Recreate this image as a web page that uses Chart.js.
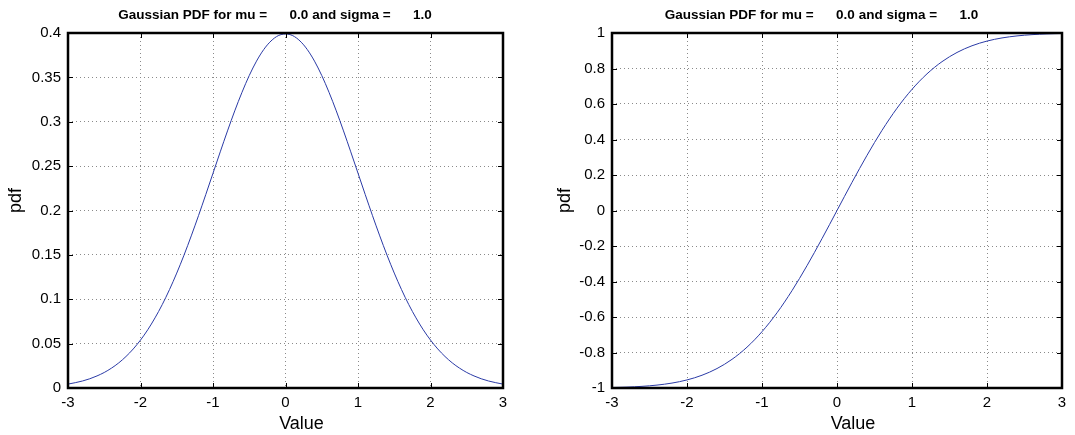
<!DOCTYPE html>
<html>
<head>
<meta charset="utf-8">
<script src="https://cdn.jsdelivr.net/npm/chart.js@4"></script>
<style>
  body { margin: 0; background: #fff; }
  #wrap { position: relative; width: 1075px; height: 435px; }
  .box { position: absolute; top: 0; height: 435px; }
</style>
</head>
<body>
<div id="wrap">
  <div class="box" style="left:0;width:537px"><canvas id="left" width="537" height="435"></canvas></div>
  <div class="box" style="left:537px;width:538px"><canvas id="right" width="538" height="435"></canvas></div>
</div>
<script>
const xValues = [
  -3.0, -2.9, -2.8, -2.7, -2.6, -2.5, -2.4, -2.3, -2.2, -2.1,
  -2.0, -1.9, -1.8, -1.7, -1.6, -1.5, -1.4, -1.3, -1.2, -1.1,
  -1.0, -0.9, -0.8, -0.7, -0.6, -0.5, -0.4, -0.3, -0.2, -0.1,
  0.0, 0.1, 0.2, 0.3, 0.4, 0.5, 0.6, 0.7, 0.8, 0.9,
  1.0, 1.1, 1.2, 1.3, 1.4, 1.5, 1.6, 1.7, 1.8, 1.9,
  2.0, 2.1, 2.2, 2.3, 2.4, 2.5, 2.6, 2.7, 2.8, 2.9, 3.0
];
const pdfValues = [
  0.0044, 0.0060, 0.0079, 0.0104, 0.0136, 0.0175, 0.0224, 0.0283, 0.0355, 0.0440,
  0.0540, 0.0656, 0.0790, 0.0940, 0.1109, 0.1295, 0.1497, 0.1714, 0.1942, 0.2179,
  0.2420, 0.2661, 0.2897, 0.3123, 0.3332, 0.3521, 0.3683, 0.3814, 0.3910, 0.3970,
  0.3989, 0.3970, 0.3910, 0.3814, 0.3683, 0.3521, 0.3332, 0.3123, 0.2897, 0.2661,
  0.2420, 0.2179, 0.1942, 0.1714, 0.1497, 0.1295, 0.1109, 0.0940, 0.0790, 0.0656,
  0.0540, 0.0440, 0.0355, 0.0283, 0.0224, 0.0175, 0.0136, 0.0104, 0.0079, 0.0060, 0.0044
];
const rightValues = [
  -0.9973, -0.9963, -0.9949, -0.9931, -0.9907, -0.9876, -0.9836, -0.9786, -0.9722, -0.9643,
  -0.9545, -0.9426, -0.9281, -0.9109, -0.8904, -0.8664, -0.8385, -0.8064, -0.7699, -0.7287,
  -0.6827, -0.6319, -0.5763, -0.5161, -0.4515, -0.3829, -0.3108, -0.2358, -0.1585, -0.0797,
  0.0, 0.0797, 0.1585, 0.2358, 0.3108, 0.3829, 0.4515, 0.5161, 0.5763, 0.6319,
  0.6827, 0.7287, 0.7699, 0.8064, 0.8385, 0.8664, 0.8904, 0.9109, 0.9281, 0.9426,
  0.9545, 0.9643, 0.9722, 0.9786, 0.9836, 0.9876, 0.9907, 0.9931, 0.9949, 0.9963, 0.9973
];
const xTicks = [-3, -2, -1, 0, 1, 2, 3];
const pdfTicks = [0, 0.05, 0.1, 0.15, 0.2, 0.25, 0.3, 0.35, 0.4];
const rightTicks = [-1, -0.8, -0.6, -0.4, -0.2, 0, 0.2, 0.4, 0.6, 0.8, 1];

const titleText = "Gaussian PDF for mu =      0.0 and sigma =      1.0";
const xTitle = "Value";
const yTitle = "pdf";
const fontFamily = '"Liberation Sans", Arial, Helvetica, sans-serif';
const lineColor = "#2a3aa6";

// box, inward tick marks and the texts, MATLAB style
const frame = {
  id: "frame",
  afterDraw(chart, args, opts) {
    const { ctx, chartArea: a, scales: { x, y } } = chart;
    ctx.save();
    ctx.strokeStyle = "#000";
    ctx.lineWidth = 1;
    ctx.beginPath();
    x.ticks.forEach(t => {
      const px = Math.round(x.getPixelForValue(t.value)) + 0.5;
      ctx.moveTo(px, a.bottom); ctx.lineTo(px, a.bottom - 5);
      ctx.moveTo(px, a.top); ctx.lineTo(px, a.top + 5);
    });
    y.ticks.forEach(t => {
      const py = Math.round(y.getPixelForValue(t.value)) + 0.5;
      ctx.moveTo(a.left, py); ctx.lineTo(a.left + 5, py);
      ctx.moveTo(a.right, py); ctx.lineTo(a.right - 5, py);
    });
    ctx.stroke();
    ctx.lineWidth = 2.5;
    ctx.strokeRect(a.left, a.top, a.right - a.left, a.bottom - a.top);

    const cx = (a.left + a.right) / 2;
    ctx.fillStyle = "#000";
    ctx.textAlign = "center";
    ctx.textBaseline = "alphabetic";
    ctx.font = "bold 13.5px " + fontFamily;
    ctx.fillText(titleText, cx + opts.titleShift, 19);
    ctx.font = "18px " + fontFamily;
    ctx.fillText(xTitle, cx + 16, 429);
    ctx.translate(opts.yTitleX, (a.top + a.bottom) / 2 - 10);
    ctx.rotate(-Math.PI / 2);
    ctx.textBaseline = "middle";
    ctx.fillText(yTitle, 0, 0);
    ctx.restore();
  }
};

function makeChart(id, values, yTicks, cfg) {
  const tickFont = { family: fontFamily, size: 15 };
  const grid = { color: "#8a8a8a", lineWidth: 1, drawTicks: false };
  const border = { display: false, dash: [1, 3] };
  return new Chart(document.getElementById(id), {
    type: "line",
    data: {
      datasets: [{
        data: values.map((v, i) => ({ x: xValues[i], y: v })),
        borderColor: lineColor,
        borderWidth: 1,
        pointRadius: 0,
        cubicInterpolationMode: "monotone",
        fill: false
      }]
    },
    options: {
      responsive: false,
      animation: false,
      events: [],
      layout: { padding: { top: 33, right: cfg.padRight, left: 0, bottom: 0 } },
      plugins: {
        legend: { display: false },
        tooltip: { enabled: false },
        frame: cfg
      },
      scales: {
        x: {
          type: "linear",
          min: -3,
          max: 3,
          afterBuildTicks: s => { s.ticks = xTicks.map(v => ({ value: v })); },
          afterFit: s => { s.height = 47; },
          grid: grid,
          border: border,
          ticks: { color: "#000", font: tickFont, padding: 6, maxRotation: 0, autoSkip: false,
                   callback: v => String(v) }
        },
        y: {
          type: "linear",
          min: yTicks[0],
          max: yTicks[yTicks.length - 1],
          afterBuildTicks: s => { s.ticks = yTicks.map(v => ({ value: v })); },
          afterFit: s => { s.width = cfg.left; },
          grid: grid,
          border: border,
          ticks: { color: "#000", font: tickFont, padding: 7, autoSkip: false,
                   callback: v => String(Math.round(v * 100) / 100) }
        }
      }
    },
    plugins: [frame]
  });
}

makeChart("left", pdfValues, pdfTicks, { left: 68, padRight: 34, titleShift: -10.5, yTitleX: 16 });
makeChart("right", rightValues, rightTicks, { left: 75, padRight: 13, titleShift: -15.5, yTitleX: 28 });
</script>
</body>
</html>
